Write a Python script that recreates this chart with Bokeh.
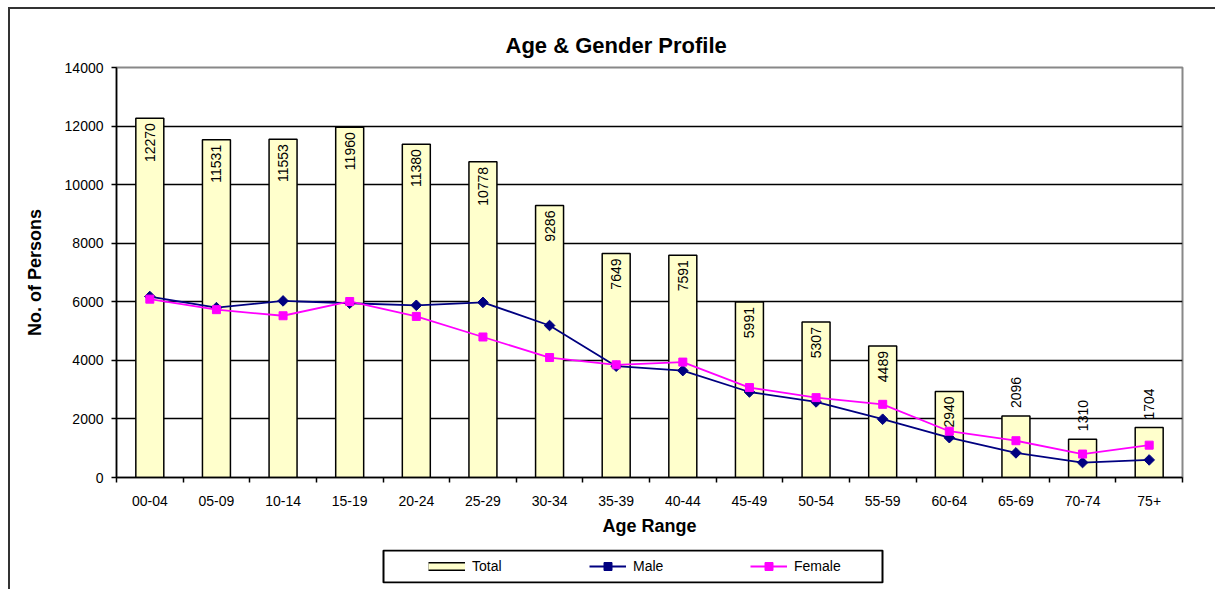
import numpy as np
from bokeh.plotting import figure
from bokeh.layouts import column
from bokeh.models import (ColumnDataSource, FixedTicker, Legend, LegendItem, Range1d,
                          BoxAnnotation)
from bokeh.core.properties import value
from bokeh.embed import file_html
from bokeh.resources import INLINE

categories = ["00-04", "05-09", "10-14", "15-19", "20-24", "25-29", "30-34", "35-39",
              "40-44", "45-49", "50-54", "55-59", "60-64", "65-69", "70-74", "75+"]
total = [12270, 11531, 11553, 11960, 11380, 10778, 9286, 7649,
         7591, 5991, 5307, 4489, 2940, 2096, 1310, 1704]
male = [6180, 5800, 6030, 5950, 5880, 5980, 5190, 3800,
        3650, 2920, 2580, 1990, 1360, 840, 510, 600]
female = [6090, 5731, 5523, 6010, 5500, 4798, 4096, 3849,
          3941, 3071, 2727, 2499, 1580, 1256, 800, 1104]
y_ticks = [0, 2000, 4000, 6000, 8000, 10000, 12000, 14000]

FONT = "Liberation Sans"
W, H_MAIN, H_LEG = 1215, 540, 49
BL, BR = 116, 33
BAR_FILL, MALE_C, FEMALE_C = "#FFFFCC", "#000080", "#FF00FF"

x = list(range(len(categories)))
src = ColumnDataSource(dict(x=x, cat=categories, total=total, male=male, female=female))
inside_idx = [i for i, v in enumerate(total) if v >= 2500]
above_idx = [i for i, v in enumerate(total) if v < 2500]
src_in = ColumnDataSource(dict(x=[x[i] for i in inside_idx], y=[total[i] for i in inside_idx],
                               t=[str(total[i]) for i in inside_idx]))
src_up = ColumnDataSource(dict(x=[x[i] for i in above_idx], y=[total[i] for i in above_idx],
                               t=[str(total[i]) for i in above_idx]))

p = figure(width=W, height=H_MAIN, output_backend="svg", toolbar_location=None,
           x_range=Range1d(-0.5, len(categories) - 0.5), y_range=Range1d(0, 14000),
           min_border_left=BL, min_border_right=BR, min_border_top=67, min_border_bottom=63,
           title="Age & Gender Profile")
p.background_fill_color = "white"
p.border_fill_alpha = 0
p.outline_line_color = "#888888"
p.outline_line_width = 2
p.styles = {"box-shadow": "inset 8px 7px 0 0 #ffffff, inset 10px 9px 0 0 #333333"}

p.title.align = "left"
p.title.offset = 389
p.title.text_font = FONT
p.title.text_font_size = "22px"
p.title.text_font_style = "bold"
p.title.text_color = "black"
p.title.standoff = 20

# axes
p.xaxis.ticker = FixedTicker(ticks=x, minor_ticks=[i - 0.5 for i in range(len(categories) + 1)])
p.xaxis.major_label_overrides = {i: c for i, c in zip(x, categories)}
p.xaxis.major_tick_out = 0
p.xaxis.major_tick_in = 0
p.xaxis.minor_tick_out = 5
p.xaxis.minor_tick_in = 0
p.xaxis.minor_tick_line_color = "black"
p.xaxis.minor_tick_line_width = 1.5
p.xaxis.major_label_standoff = 13
p.xaxis.axis_label = "Age Range"
p.xaxis.axis_label_standoff = 7

p.yaxis.ticker = FixedTicker(ticks=y_ticks)
p.yaxis.major_tick_out = 5
p.yaxis.major_tick_in = 0
p.yaxis.minor_tick_line_color = None
p.yaxis.major_label_standoff = 8
p.yaxis.axis_label = "No. of Persons"
p.yaxis.axis_label_standoff = 17

for ax in (p.xaxis, p.yaxis):
    ax.axis_line_color = "black"
    ax.axis_line_width = 1.5
    ax.major_tick_line_color = "black"
    ax.major_tick_line_width = 1.5
    ax.major_label_text_font = FONT
    ax.major_label_text_font_size = "14px"
    ax.major_label_text_color = "black"
    ax.axis_label_text_font = FONT
    ax.axis_label_text_font_size = "18px"
    ax.axis_label_text_font_style = "bold"
    ax.axis_label_text_color = "black"

p.xgrid.grid_line_color = None
p.ygrid.ticker = FixedTicker(ticks=y_ticks[1:-1])
p.ygrid.grid_line_color = "black"
p.ygrid.grid_line_width = 1.5

p.vbar(x="x", top="total", bottom=0, width=0.42, source=src,
       fill_color=BAR_FILL, line_color="black", line_width=1.5)
p.line(x="x", y="male", source=src, line_color=MALE_C, line_width=1.8)
p.scatter(x="x", y="male", source=src, marker="square", angle=np.pi / 4, size=7.5,
          fill_color=MALE_C, line_color=MALE_C)
p.line(x="x", y="female", source=src, line_color=FEMALE_C, line_width=1.8)
p.scatter(x="x", y="female", source=src, marker="square", size=8,
          fill_color=FEMALE_C, line_color=FEMALE_C)

p.text(x="x", y="y", text="t", source=src_in, angle=np.pi / 2, text_align="right",
       text_baseline="middle", y_offset=5, text_font=value(FONT), text_font_size="14px",
       text_color="black")
p.text(x="x", y="y", text="t", source=src_up, angle=np.pi / 2, text_align="left",
       text_baseline="middle", y_offset=-8, text_font=value(FONT), text_font_size="14px",
       text_color="black")

# ---- legend strip below the chart (frame aligned with the chart's frame) ----
LEG_FRAME_W = W - BL - BR
q = figure(width=W, height=H_LEG, output_backend="svg", toolbar_location=None,
           x_range=Range1d(0, LEG_FRAME_W), y_range=Range1d(0, 34),
           x_axis_type=None, y_axis_type=None,
           min_border_left=BL, min_border_right=BR, min_border_top=9, min_border_bottom=6)
q.grid.visible = False
q.background_fill_alpha = 0
q.border_fill_alpha = 0
q.outline_line_color = None
q.styles = {"box-shadow": "inset 8px 0 0 0 #ffffff, inset 10px 0 0 0 #333333"}

# legend box outline (pixel-mapped strip coordinates)
q.add_layout(BoxAnnotation(left=267, right=766, bottom=1, top=33,
                           fill_color="white", fill_alpha=1,
                           line_color="black", line_width=2, line_alpha=1))

nan_seg = ColumnDataSource(dict(x0=[np.nan], y0=[np.nan], x1=[np.nan], y1=[np.nan]))
nan_pt = ColumnDataSource(dict(x=[np.nan], y=[np.nan]))
sw_edge = q.segment(x0="x0", y0="y0", x1="x1", y1="y1", source=nan_seg,
                    line_color="black", line_width=9, line_cap="butt")
sw_fill = q.segment(x0="x0", y0="y0", x1="x1", y1="y1", source=nan_seg,
                    line_color=BAR_FILL, line_width=6, line_cap="butt")
lm = q.line(x="x", y="y", source=nan_pt, line_color=MALE_C, line_width=1.8)
sm = q.scatter(x="x", y="y", source=nan_pt, marker="square", angle=np.pi / 4,
               fill_color=MALE_C, line_color=MALE_C)
lf = q.line(x="x", y="y", source=nan_pt, line_color=FEMALE_C, line_width=1.8)
sf = q.scatter(x="x", y="y", source=nan_pt, marker="square",
               fill_color=FEMALE_C, line_color=FEMALE_C)

leg = Legend(items=[LegendItem(label="Total", renderers=[sw_edge, sw_fill]),
                    LegendItem(label="Male", renderers=[lm, sm]),
                    LegendItem(label="Female", renderers=[lf, sf])],
             location=(306, 1), orientation="horizontal", glyph_width=37, glyph_height=20,
             label_standoff=7, label_width=80, spacing=37, padding=6, margin=0,
             border_line_alpha=0, background_fill_alpha=0,
             label_text_font=FONT, label_text_font_size="14px", label_text_color="black")
q.add_layout(leg, "center")

layout = column(p, q, spacing=0)
open("out.html", "w").write(file_html(layout, INLINE))
